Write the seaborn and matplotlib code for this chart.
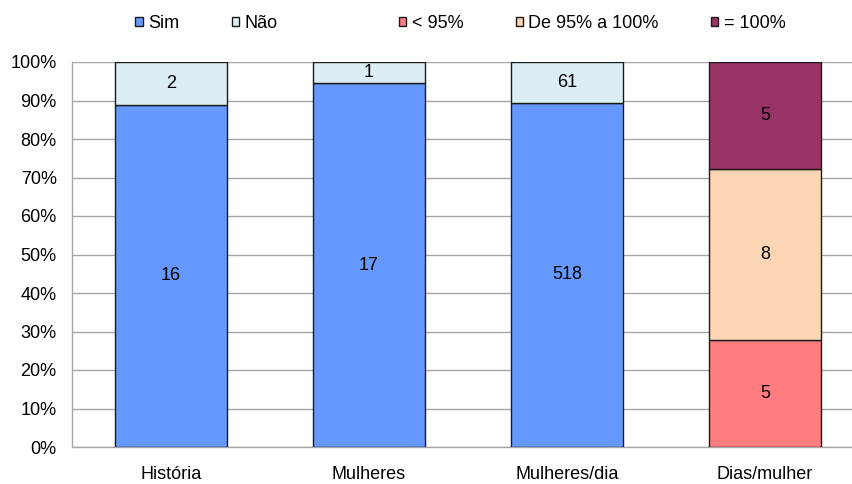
import numpy as np
import seaborn as sns
from matplotlib import pyplot as plt
from matplotlib.patches import Patch
from matplotlib.ticker import PercentFormatter

# data
cats = ["História", "Mulheres", "Mulheres/dia", "Dias/mulher"]
sim = [16, 17, 518]
nao = [2, 1, 61]
menos95 = [5]
de95a100 = [8]
igual100 = [5]

sns.set_theme(style="white")
plt.rcParams["font.family"] = ["Liberation Sans", "DejaVu Sans"]
plt.rcParams["text.color"] = "black"
plt.rcParams["xtick.color"] = "black"
plt.rcParams["ytick.color"] = "black"

col_sim = "#6699FF"
col_nao = "#DAEEF3"
col_m95 = "#FF7C80"
col_de95 = "#FCD5B4"
col_100 = "#993366"
edge = "#1a1a1a"
fs = 13

# percentages per bar
sim_tot = np.array(sim) + np.array(nao)
sim_pct = np.array(sim) / sim_tot * 100
nao_pct = np.array(nao) / sim_tot * 100
dias_tot = menos95[0] + de95a100[0] + igual100[0]
m95_pct = np.array(menos95) / dias_tot * 100
de95_pct = np.array(de95a100) / dias_tot * 100
i100_pct = np.array(igual100) / dias_tot * 100

fig = plt.figure(figsize=(8.53, 4.84), dpi=100)
W, H = 853, 484
ax = fig.add_axes([72 / W, 37 / H, (W - 72) / W, 385 / H])

bw = 0.57
kw = dict(order=cats, width=bw, edgecolor=edge, linewidth=1, ax=ax, zorder=3)
sns.barplot(x=cats[:3], y=sim_pct, color=col_sim, saturation=1, **kw)
sns.barplot(x=cats[:3], y=nao_pct, bottom=sim_pct, color=col_nao, saturation=1, **kw)
sns.barplot(x=cats[3:], y=m95_pct, color=col_m95, saturation=1, **kw)
sns.barplot(x=cats[3:], y=de95_pct, bottom=m95_pct, color=col_de95, saturation=1, **kw)
sns.barplot(x=cats[3:], y=i100_pct, bottom=m95_pct + de95_pct, color=col_100, saturation=1, **kw)

# value labels in the middle of each segment
for i in range(3):
    ax.text(i, sim_pct[i] / 2, str(sim[i]), ha="center", va="center", fontsize=fs, zorder=4)
    ax.text(i, sim_pct[i] + nao_pct[i] / 2, str(nao[i]), ha="center", va="center", fontsize=fs, zorder=4)
b = 0
for v, p in [(menos95[0], m95_pct[0]), (de95a100[0], de95_pct[0]), (igual100[0], i100_pct[0])]:
    ax.text(3, b + p / 2, str(v), ha="center", va="center", fontsize=fs, zorder=4)
    b += p

ax.set_ylim(0, 100)
ax.set_xlim(-0.5, (W - 72) / 198 - 0.5)
ax.set_yticks(np.arange(0, 101, 10))
ax.yaxis.set_major_formatter(PercentFormatter(decimals=0))
ax.yaxis.grid(True, color="#A6A6A6", linewidth=1)
ax.set_axisbelow(True)
ax.set_xlabel("")
ax.set_ylabel("")
ax.tick_params(axis="y", length=0, pad=11, labelsize=fs)
ax.tick_params(axis="x", length=0, pad=14, labelsize=fs)
for s in ["top", "right"]:
    ax.spines[s].set_visible(False)
for s in ["left", "bottom"]:
    ax.spines[s].set_color("#A6A6A6")
    ax.spines[s].set_linewidth(1)

leg_kw = dict(frameon=False, ncol=3, fontsize=fs, loc="center left", borderpad=0,
              borderaxespad=0, handlelength=0.4, handleheight=0.4,
              handletextpad=0.3, columnspacing=2.9)
h1 = [Patch(facecolor=col_sim, edgecolor=edge, label="Sim"),
      Patch(facecolor=col_nao, edgecolor=edge, label="Não")]
h2 = [Patch(facecolor=col_m95, edgecolor=edge, label="< 95%"),
      Patch(facecolor=col_de95, edgecolor=edge, label="De 95% a 100%"),
      Patch(facecolor=col_100, edgecolor=edge, label="= 100%")]
fig.legend(handles=h1, bbox_to_anchor=(135.5 / W, 1 - 23.5 / H), **leg_kw)
fig.legend(handles=h2, bbox_to_anchor=(399 / W, 1 - 23.5 / H), **leg_kw)

plt.savefig("out.png", dpi=100)
